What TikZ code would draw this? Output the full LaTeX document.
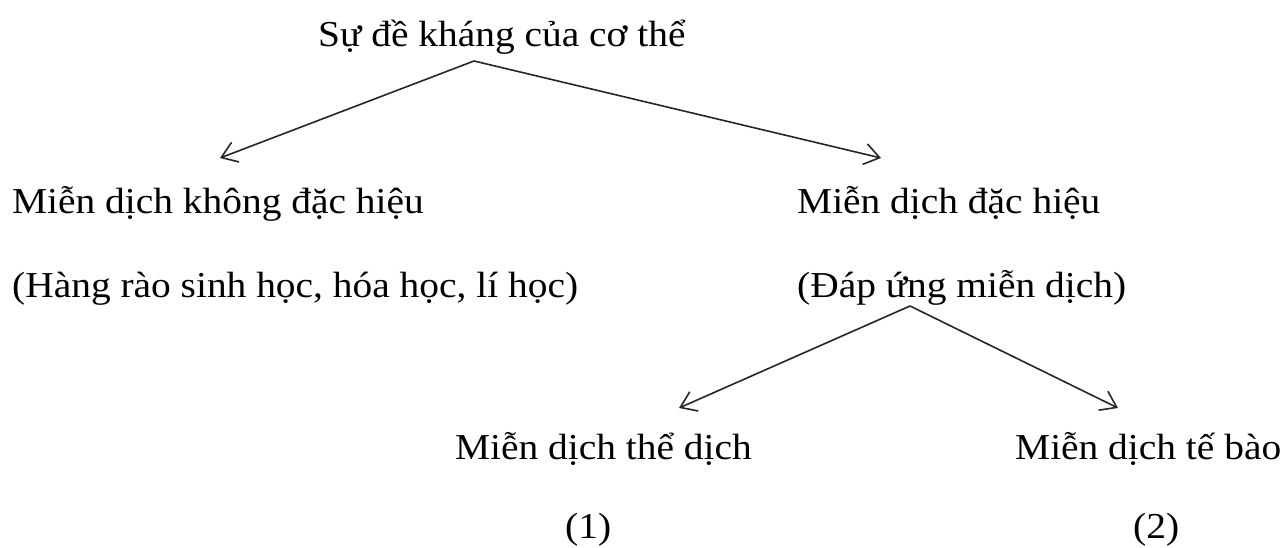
\documentclass[tikz,border=0pt]{standalone}
\usepackage{fontspec}
\setmainfont{Liberation Serif}[FakeStretch=1.08]
\usetikzlibrary{arrows.meta}
\begin{document}
\begin{tikzpicture}[x=1pt,y=-1pt,
  lbl/.style={anchor=base west,inner sep=0pt,font=\fontsize{36.5}{42}\selectfont},
  conn/.style={line width=1.6pt,draw=black!85,-{Straight Barb[length=15pt,width=21pt,line width=1.6pt]}}]
\fill[white] (0,0) rectangle (1285,548);
\useasboundingbox (0,0) rectangle (1285,548);
\node[lbl] (root) at (318,47) {Sự đề kháng của cơ thể};
\node[lbl] (kdh) at (12,214) {Miễn dịch không đặc hiệu};
\node[lbl] (kdh2) at (12,297) {(Hàng rào sinh học, hóa học, lí học)};
\node[lbl] (dh) at (797,214) {Miễn dịch đặc hiệu};
\node[lbl] (dh2) at (797,297) {(Đáp ứng miễn dịch)};
\node[lbl] (td) at (455,459) {Miễn dịch thể dịch};
\node[lbl] (tb) at (1015,459) {Miễn dịch tế bào};
\node[lbl] (n1) at (565,538) {(1)};
\node[lbl] (n2) at (1133,538) {(2)};
\coordinate (a1) at (474,61);
\coordinate (t1) at (220,158);
\coordinate (t2) at (881,158);
\coordinate (a2) at (910,306);
\coordinate (t3) at (679,408);
\coordinate (t4) at (1118,408);
\draw[conn] (a1) -- (t1);
\draw[conn] (a1) -- (t2);
\draw[conn] (a2) -- (t3);
\draw[conn] (a2) -- (t4);
\end{tikzpicture}
\end{document}
